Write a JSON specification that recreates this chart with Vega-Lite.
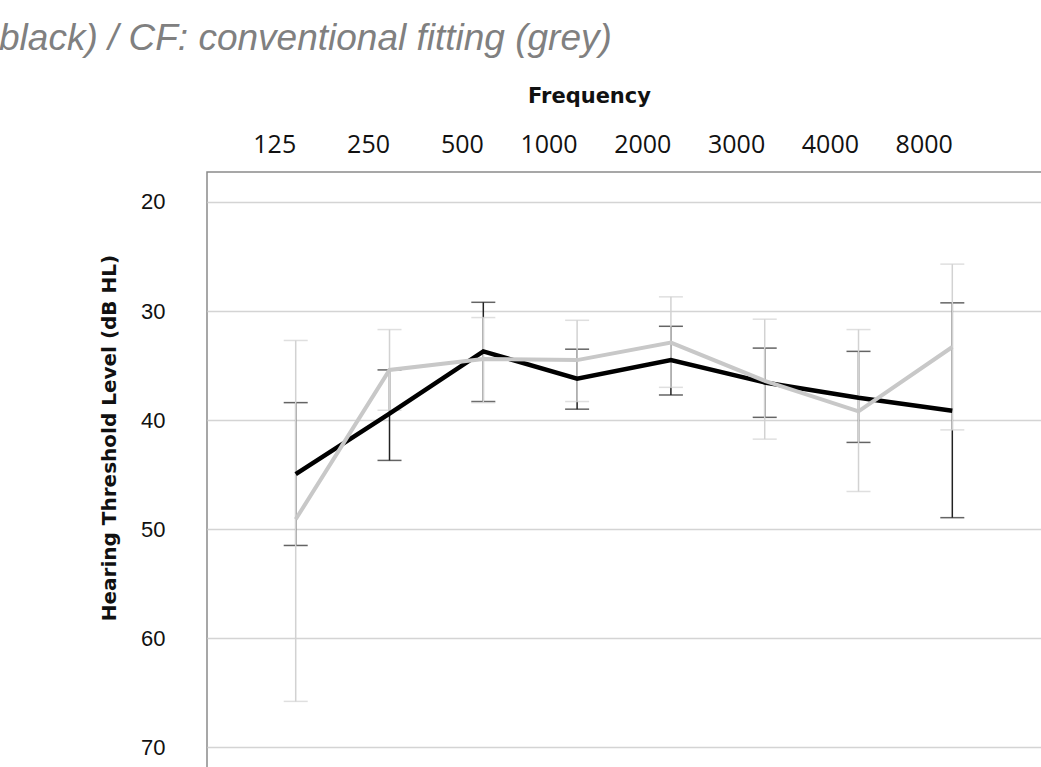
{
  "$schema": "https://vega.github.io/schema/vega-lite/v6.json",
  "autosize": "none",
  "width": 840,
  "height": 597,
  "padding": {"left": 207, "top": 172, "right": 0, "bottom": 0},
  "background": "white",
  "title": {
    "text": "black) / CF: conventional fitting (grey)",
    "anchor": "start",
    "frame": "group",
    "dx": -208,
    "dy": 2,
    "offset": 0,
    "baseline": "alphabetic",
    "font": "Liberation Sans",
    "fontSize": 37,
    "fontStyle": "italic",
    "fontWeight": "normal",
    "color": "#808080"
  },
  "data": {
    "values": [
      {"freq": "125", "group": "NF", "mean": 44.95, "lo": 38.4, "hi": 51.5},
      {"freq": "250", "group": "NF", "mean": 39.4, "lo": 35.4, "hi": 43.7},
      {"freq": "500", "group": "NF", "mean": 33.7, "lo": 29.2, "hi": 38.3},
      {"freq": "1000", "group": "NF", "mean": 36.2, "lo": 33.5, "hi": 39.0},
      {"freq": "2000", "group": "NF", "mean": 34.5, "lo": 31.4, "hi": 37.7},
      {"freq": "3000", "group": "NF", "mean": 36.55, "lo": 33.4, "hi": 39.75},
      {"freq": "4000", "group": "NF", "mean": 37.95, "lo": 33.7, "hi": 42.05},
      {"freq": "8000", "group": "NF", "mean": 39.15, "lo": 29.25, "hi": 48.95},
      {"freq": "125", "group": "CF", "mean": 49.1, "lo": 32.7, "hi": 65.8},
      {"freq": "250", "group": "CF", "mean": 35.4, "lo": 31.7, "hi": 39.1},
      {"freq": "500", "group": "CF", "mean": 34.4, "lo": 30.6, "hi": 38.4},
      {"freq": "1000", "group": "CF", "mean": 34.5, "lo": 30.85, "hi": 38.3},
      {"freq": "2000", "group": "CF", "mean": 32.9, "lo": 28.7, "hi": 37.0},
      {"freq": "3000", "group": "CF", "mean": 36.4, "lo": 30.75, "hi": 41.75},
      {"freq": "4000", "group": "CF", "mean": 39.2, "lo": 31.7, "hi": 46.55},
      {"freq": "8000", "group": "CF", "mean": 33.3, "lo": 25.7, "hi": 40.9}
    ]
  },
  "encoding": {
    "x": {
      "field": "freq",
      "type": "ordinal",
      "sort": null,
      "scale": {
        "type": "point",
        "domain": ["125", "250", "500", "1000", "2000", "3000", "4000", "8000"],
        "padding": 0.9776,
        "align": 0.4837
      },
      "axis": {
        "orient": "top",
        "title": "Frequency",
        "titleFont": "DejaVu Sans",
        "titleFontSize": 21,
        "titleFontWeight": "bold",
        "titleColor": "#111111",
        "titleX": 382,
        "titleY": -70,
        "titleAlign": "center",
        "titleBaseline": "alphabetic",
        "labelFont": "Open Sans",
        "labelFontSize": 25,
        "labelColor": "#111111",
        "labelAngle": 0,
        "labelAlign": "right",
        "labelDx": 1,
        "labelBaseline": "alphabetic",
        "labelPadding": 20,
        "ticks": false,
        "tickSize": 0,
        "domain": false,
        "grid": false
      }
    }
  },
  "layer": [
    {
      "transform": [{"filter": "datum.group === 'NF'"}],
      "mark": {"type": "rule", "color": "#222222", "strokeWidth": 1.5},
      "encoding": {
        "y": {
          "field": "lo",
          "type": "quantitative",
          "scale": {"domain": [17.25, 72], "reverse": true, "nice": false, "zero": false},
          "axis": {
            "values": [20, 30, 40, 50, 60, 70],
            "title": "Hearing Threshold Level (dB HL)",
            "titleFont": "DejaVu Sans",
            "titleFontSize": 20,
            "titleFontWeight": "bold",
            "titleColor": "#111111",
            "titleAngle": 270,
            "titleX": -92,
            "titleY": 265.5,
            "titleAlign": "center",
            "titleBaseline": "alphabetic",
            "labelFont": "Liberation Sans",
            "labelFontSize": 22,
            "labelColor": "#111111",
            "labelPadding": 42,
            "ticks": false,
            "tickSize": 0,
            "domain": false,
            "grid": true,
            "gridColor": "#d4d4d4",
            "gridWidth": 1.5
          }
        },
        "y2": {"field": "hi"}
      }
    },
    {
      "transform": [{"filter": "datum.group === 'NF'"}],
      "mark": {"type": "tick", "orient": "horizontal", "color": "#222222", "size": 24, "thickness": 1.5},
      "encoding": {"y": {"field": "lo", "type": "quantitative"}}
    },
    {
      "transform": [{"filter": "datum.group === 'NF'"}],
      "mark": {"type": "tick", "orient": "horizontal", "color": "#222222", "size": 24, "thickness": 1.5},
      "encoding": {"y": {"field": "hi", "type": "quantitative"}}
    },
    {
      "transform": [{"filter": "datum.group === 'CF'"}],
      "mark": {"type": "rule", "color": "#d2d2d2", "strokeWidth": 1.5},
      "encoding": {
        "y": {"field": "lo", "type": "quantitative"},
        "y2": {"field": "hi"}
      }
    },
    {
      "transform": [{"filter": "datum.group === 'CF'"}],
      "mark": {"type": "tick", "orient": "horizontal", "color": "#d2d2d2", "size": 24, "thickness": 1.5},
      "encoding": {"y": {"field": "lo", "type": "quantitative"}}
    },
    {
      "transform": [{"filter": "datum.group === 'CF'"}],
      "mark": {"type": "tick", "orient": "horizontal", "color": "#d2d2d2", "size": 24, "thickness": 1.5},
      "encoding": {"y": {"field": "hi", "type": "quantitative"}}
    },
    {
      "transform": [{"filter": "datum.group === 'NF'"}],
      "mark": {"type": "line", "color": "#000000", "strokeWidth": 4.5, "strokeJoin": "miter"},
      "encoding": {"y": {"field": "mean", "type": "quantitative"}}
    },
    {
      "transform": [{"filter": "datum.group === 'CF'"}],
      "mark": {"type": "line", "color": "#c8c8c8", "strokeWidth": 4, "strokeJoin": "miter"},
      "encoding": {"y": {"field": "mean", "type": "quantitative"}}
    }
  ],
  "config": {
    "view": {"stroke": "#8a8a8a", "strokeWidth": 1.5}
  }
}
